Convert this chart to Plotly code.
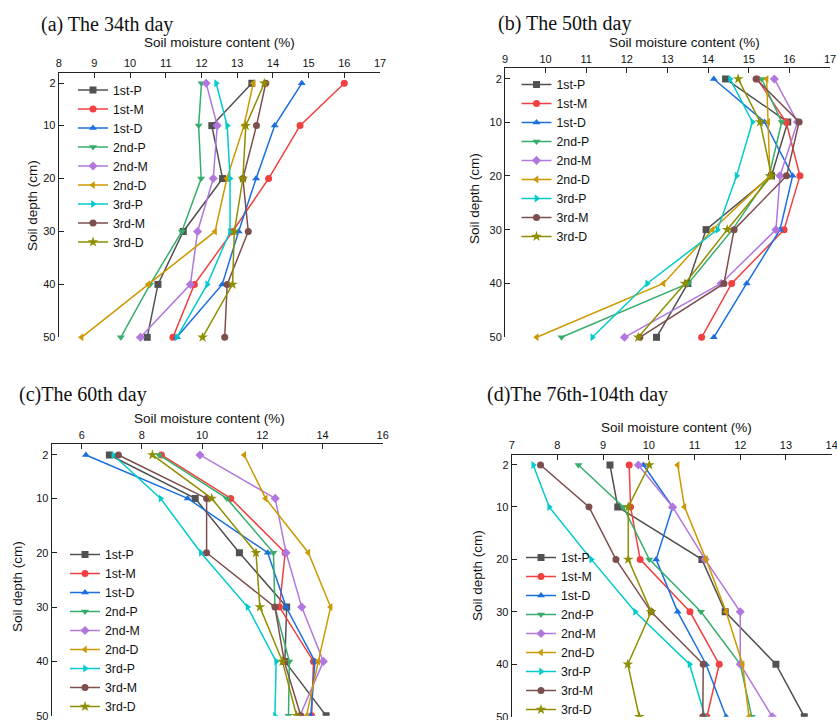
import plotly.graph_objects as go

depth = [2, 10, 20, 30, 40, 50]
series = ["1st-P", "1st-M", "1st-D", "2nd-P", "2nd-M", "2nd-D", "3rd-P", "3rd-M", "3rd-D"]
panel_titles = ["(a) The 34th day", "(b) The 50th day", "(c)The 60th day", "(d)The 76th-104th day"]
x_title = "Soil moisture content (%)"
y_title = "Soil depth (cm)"

# values per series (rows in 'series' order), columns follow 'depth'
day34 = [
    [13.41, 12.29, 12.59, 11.49, 10.78, 10.48],
    [16.00, 14.76, 13.88, 12.87, 11.80, 11.20],
    [14.81, 14.05, 13.53, 13.04, 12.58, 11.31],
    [12.00, 11.92, 11.99, 11.45, 10.56, 9.74],
    [12.13, 12.44, 12.33, 11.89, 11.69, 10.29],
    [13.45, 13.19, 12.71, 12.38, 10.51, 8.64],
    [12.41, 12.72, 12.80, 12.80, 12.16, 11.31],
    [13.80, 13.54, 13.16, 13.31, 12.72, 12.65],
    [13.76, 13.24, 13.16, 12.92, 12.87, 12.03],
]
day50 = [
    [14.43, 15.96, 15.56, 13.95, 13.50, 12.73],
    [15.21, 15.92, 16.26, 15.87, 14.58, 13.84],
    [14.14, 15.39, 16.08, 15.77, 14.95, 14.14],
    [15.32, 15.81, 15.50, 14.60, 13.51, 10.39],
    [15.63, 16.20, 15.77, 15.67, 14.32, 11.94],
    [15.44, 15.48, 15.52, 14.11, 12.90, 9.78],
    [14.54, 15.09, 14.70, 14.23, 12.50, 11.15],
    [15.18, 16.24, 15.93, 14.64, 14.39, 12.32],
    [14.74, 15.28, 15.56, 14.47, 13.43, 12.28],
]
day60 = [
    [6.92, 9.77, 11.24, 12.81, 12.75, 14.12],
    [8.65, 10.95, 12.76, 12.57, 13.70, 13.64],
    [6.14, 9.52, 12.18, 12.79, 13.75, 13.61],
    [8.57, 10.82, 12.37, 12.42, 12.90, 12.87],
    [9.93, 12.43, 12.79, 13.31, 14.03, 13.25],
    [11.40, 12.11, 13.53, 14.27, 13.86, 13.47],
    [7.05, 8.62, 9.96, 11.51, 12.46, 12.42],
    [7.22, 10.15, 10.15, 12.42, 12.73, 13.28],
    [8.35, 10.32, 11.79, 11.92, 12.67, 13.14],
]
day76_104 = [
    [9.15, 9.32, 11.16, 11.67, 12.78, 13.40],
    [9.57, 9.60, 9.81, 10.90, 11.54, 11.27],
    [9.88, 10.52, 10.16, 10.63, 11.25, 11.69],
    [8.46, 9.44, 10.01, 11.14, 12.00, 12.25],
    [9.77, 10.52, 11.23, 12.00, 12.00, 12.70],
    [10.63, 10.78, 11.25, 11.69, 12.05, 12.19],
    [7.47, 7.82, 8.74, 9.70, 10.89, 11.23],
    [7.63, 8.69, 9.28, 10.05, 11.19, 11.18],
    [10.01, 9.55, 9.55, 10.05, 9.54, 9.79],
]
panels = [day34, day50, day60, day76_104]

colors = ["#515151", "#F14040", "#1A6FDF", "#37AD6B", "#B177DE", "#CC9900", "#00CBCC", "#7D4E4E", "#8E8E00"]
symbols = ["square", "circle", "triangle-up", "triangle-down", "diamond", "triangle-left",
           "triangle-right", "circle", "star"]

W, H = 837, 720
def px(v): return v / W
def py(v): return 1 - v / H

# layout geometry (pixels)
geo = [
    dict(x0=58.7, x1=380.0, y0=72.7, y1=337.3, xr=[8, 17], dt=1,
         title=(39, 25), xt=(219, 42), yt=(32, 205), leg=(73, 75.5), clip=False),
    dict(x0=505.0, x1=830.0, y0=68.2, y1=337.3, xr=[9, 17], dt=1,
         title=(496, 23), xt=(684, 42), yt=(474, 199), leg=(516.5, 69.9), clip=False),
    dict(x0=51.6, x1=382.7, y0=444.1, y1=715.7, xr=[5, 16], dt=2,
         title=(17, 394), xt=(209, 418), yt=(17, 587), leg=(65, 540), clip=True),
    dict(x0=511.7, x1=831.7, y0=454.5, y1=716.7, xr=[7, 14], dt=1,
         title=(485, 394), xt=(676, 427), yt=(477, 576), leg=(521, 543), clip=True),
]

fig = go.Figure()
sans = "Liberation Sans, Arial, sans-serif"
axis_font = dict(family=sans, size=11, color="#111")
annotations = []
for p, (data, g) in enumerate(zip(panels, geo)):
    n = "" if p == 0 else str(p + 1)
    legname = "legend" + n
    for i, name in enumerate(series):
        fig.add_trace(go.Scatter(
            x=data[i], y=depth, name=name, mode="lines+markers",
            line=dict(color=colors[i], width=1.5),
            marker=dict(symbol=symbols[i], color=colors[i], size=8 if symbols[i] == "star" else 7),
            xaxis="x" + n, yaxis="y" + n, legend=legname, cliponaxis=g["clip"],
        ))
    fig.layout["xaxis" + n] = dict(
        domain=[px(g["x0"]), px(g["x1"])], range=g["xr"], dtick=g["dt"], tick0=0,
        side="top", anchor="y" + n, showline=True, linecolor="#222", linewidth=1,
        ticks="inside", ticklen=5, tickcolor="#222", showgrid=False, zeroline=False,
        tickfont=axis_font, ticklabeloverflow="allow", automargin=False,
    )
    fig.layout["yaxis" + n] = dict(
        domain=[py(g["y1"]), py(g["y0"])], range=[50, 0], tickvals=depth,
        anchor="x" + n, showline=True, linecolor="#222", linewidth=1,
        ticks="inside", ticklen=5, tickcolor="#222", showgrid=False, zeroline=False,
        tickfont=axis_font, ticklabeloverflow="allow", automargin=False,
    )
    fig.layout[legname] = dict(
        x=px(g["leg"][0]), y=py(g["leg"][1]), xanchor="left", yanchor="top",
        xref="container", yref="container",
        bgcolor="rgba(0,0,0,0)", borderwidth=0,
        font=dict(family=sans, size=12.3, color="#111"),
        tracegroupgap=0,
    )
    annotations.append(dict(text=panel_titles[p], x=px(g["title"][0]), y=py(g["title"][1]),
                            xref="paper", yref="paper", xanchor="left", yanchor="middle",
                            showarrow=False,
                            font=dict(family="Liberation Serif, Times New Roman, serif", size=20, color="#111")))
    annotations.append(dict(text=x_title, x=px(g["xt"][0]), y=py(g["xt"][1]),
                            xref="paper", yref="paper", xanchor="center", yanchor="middle",
                            showarrow=False, font=dict(family=sans, size=13.5, color="#111")))
    annotations.append(dict(text=y_title, x=px(g["yt"][0]), y=py(g["yt"][1]), textangle=-90,
                            xref="paper", yref="paper", xanchor="center", yanchor="middle",
                            showarrow=False, font=dict(family=sans, size=13.5, color="#111")))

fig.update_layout(
    width=W, height=H, margin=dict(l=0, r=0, t=0, b=0, autoexpand=False),
    paper_bgcolor="white", plot_bgcolor="white",
    annotations=annotations, showlegend=True,
)
fig.write_html("out.html", config={"displayModeBar": False},
               post_script="document.body.style.margin='0';document.body.style.overflow='hidden';")
